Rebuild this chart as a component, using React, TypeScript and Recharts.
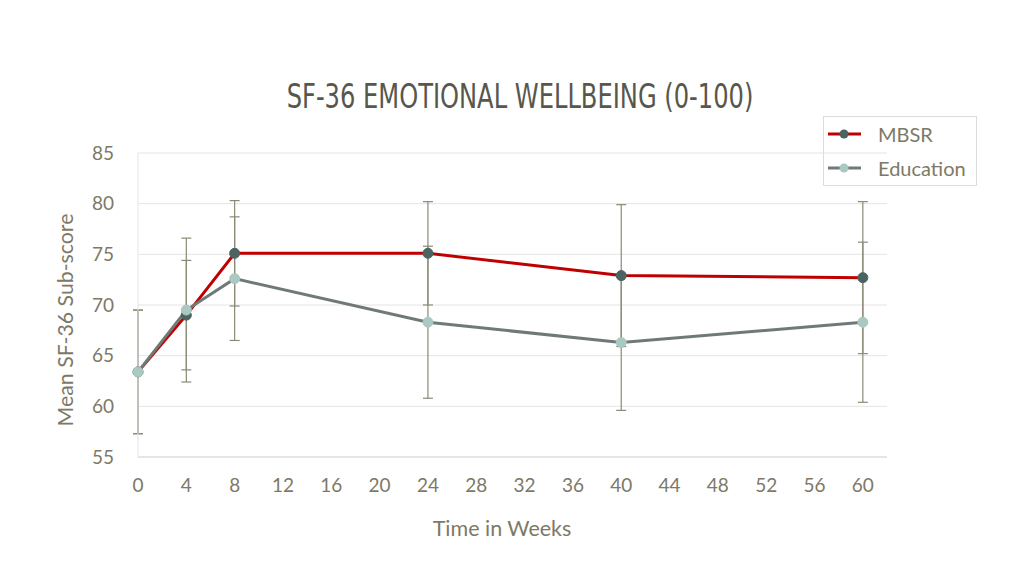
import { CartesianGrid, ErrorBar, Line, LineChart, XAxis, YAxis } from "recharts"

const weeks = [0, 4, 8, 24, 40, 60]
const mbsr = [63.4, 69.0, 75.1, 75.1, 72.9, 72.7]
const mbsrErr = [6.1, 5.4, 5.2, 5.1, 7.0, 7.5]
const education = [63.4, 69.5, 72.6, 68.3, 66.3, 68.3]
const educationErr = [6.1, 7.1, 6.1, 7.5, 6.7, 7.9]
const xTicks = [0, 4, 8, 12, 16, 20, 24, 28, 32, 36, 40, 44, 48, 52, 56, 60]
const yTicks = [55, 60, 65, 70, 75, 80, 85]

const textColor = "#7d7966"
const font = "Lato, 'Open Sans', sans-serif"

const chartData = weeks.map((w, i) => ({
  week: w,
  mbsr: mbsr[i],
  mbsrErr: mbsrErr[i],
  education: education[i],
  educationErr: educationErr[i],
}))

function LegendBox() {
  const item = (label: string, line: string, dot: string) => (
    <div style={{ display: "flex", alignItems: "center", height: 34 }}>
      <svg width={40} height={14} style={{ marginLeft: 2 }}>
        <line x1={2} y1={7} x2={35} y2={7} stroke={line} strokeWidth={3} />
        <circle cx={18} cy={7} r={4.5} fill={dot} />
      </svg>
      <span style={{ marginLeft: 12, fontSize: 20, color: textColor }}>{label}</span>
    </div>
  )
  return (
    <div
      style={{
        position: "absolute",
        left: 823,
        top: 116,
        width: 152,
        height: 68,
        border: "1px solid #dcdcdc",
        fontFamily: font,
      }}
    >
      {item("MBSR", "#c00000", "#4b6461")}
      {item("Education", "#6f7a78", "#a9c9c2")}
    </div>
  )
}

export default function App() {
  return (
    <div style={{ position: "absolute", left: 0, top: 0, width: 1024, height: 576, background: "#fff", fontFamily: font }}>
      <div
        style={{
          position: "absolute",
          top: 76,
          left: 0,
          width: 1040,
          textAlign: "center",
          fontFamily: "'DejaVu Sans Condensed', 'Liberation Sans Narrow', sans-serif",
          fontSize: 34,
          lineHeight: "40px",
          color: "#58574c",
          transform: "scaleX(0.79)",
        }}
      >
        SF-36 EMOTIONAL WELLBEING (0-100)
      </div>
      <LineChart
        width={1024}
        height={576}
        data={chartData}
        margin={{ top: 153, right: 137, bottom: 89, left: 78 }}
      >
        <CartesianGrid vertical={false} stroke="#e4e4e4" />
        <XAxis
          dataKey="week"
          type="number"
          domain={[0, 62]}
          ticks={xTicks}
          interval={0}
          height={30}
          stroke="#d9d9d9"
          tickLine={false}
          tickSize={6}
          tickMargin={16}
          tick={{ fill: textColor, fontSize: 19, fontFamily: font }}
        />
        <YAxis
          type="number"
          domain={[55, 85]}
          ticks={yTicks}
          width={60}
          stroke="#e4e4e4"
          tickLine={false}
          tickSize={6}
          tickMargin={18}
          tick={{ fill: textColor, fontSize: 19, fontFamily: font }}
        />
        <Line
          dataKey="mbsr"
          stroke="#c00000"
          strokeWidth={3}
          dot={{ r: 5, fill: "#4b6461", stroke: "#4b6461", strokeWidth: 1 }}
          isAnimationActive={false}
        >
          <ErrorBar dataKey="mbsrErr" direction="y" width={5} stroke="#8b8a76" strokeWidth={1.2} />
        </Line>
        <Line
          dataKey="education"
          stroke="#6f7a78"
          strokeWidth={3}
          dot={{ r: 5, fill: "#a9c9c2", stroke: "#a9c9c2", strokeWidth: 1 }}
          isAnimationActive={false}
        >
          <ErrorBar dataKey="educationErr" direction="y" width={5} stroke="#8b8a76" strokeWidth={1.2} />
        </Line>
      </LineChart>
      <div
        style={{
          position: "absolute",
          left: 0,
          top: 515,
          width: 1004,
          textAlign: "center",
          fontSize: 21.5,
          color: textColor,
        }}
      >
        Time in Weeks
      </div>
      <div
        style={{
          position: "absolute",
          left: 65,
          top: 320,
          transform: "translate(-50%, -50%) rotate(-90deg)",
          whiteSpace: "nowrap",
          fontSize: 21.3,
          color: textColor,
        }}
      >
        Mean SF-36 Sub-score
      </div>
      <LegendBox />
    </div>
  )
}
